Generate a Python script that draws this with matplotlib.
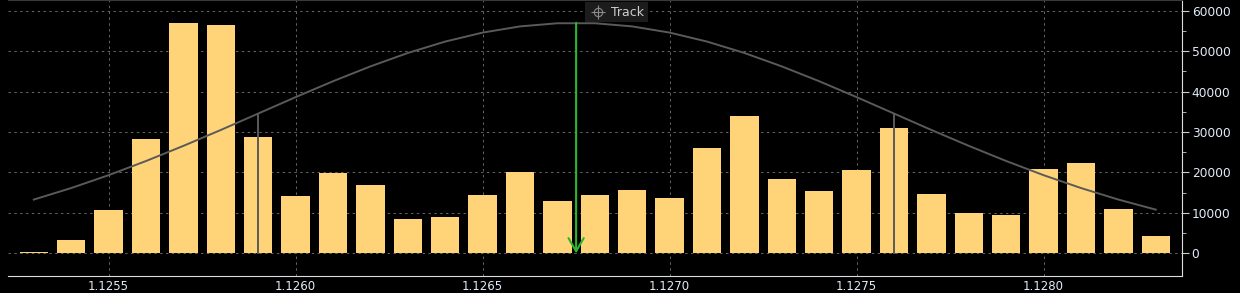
import matplotlib
matplotlib.use("Agg")
import matplotlib.pyplot as plt
from matplotlib.patches import Rectangle
from matplotlib.lines import Line2D

# volume at each price level
prices = [1.1253 + 0.0001 * i for i in range(31)]
volumes = [250, 3400, 10700, 28300, 57000, 56500, 28800, 14200, 19900, 16900,
           8500, 9000, 14400, 20100, 12900, 14400, 15700, 13700, 26000, 34000,
           18400, 15400, 20600, 31000, 14700, 10000, 9500, 20800, 22300, 11000,
           4300]

# distribution curve
curve = [13300, 16150, 19330, 22830, 26580, 30510, 34570, 38630, 42560, 46230,
         49550, 52370, 54590, 56120, 56900, 56900, 56120, 54590, 52370, 49550,
         46230, 42560, 38630, 34570, 30510, 26580, 22830, 19330, 16150, 13300,
         10810]

peak_price = 1.12675
peak_value = 57000
sigma_lines = [(1.1259, 34570), (1.1276, 34500)]

xticks = [1.1255, 1.1260, 1.1265, 1.1270, 1.1275, 1.1280]
yticks = [0, 10000, 20000, 30000, 40000, 50000, 60000]

bar_color = '#ffd479'
label_color = '#e2ecf8'

fig = plt.figure(figsize=(12.4, 2.93), dpi=100, facecolor='black')
ax = fig.add_axes([8 / 1240, 17 / 293, 1174 / 1240, 276 / 293])
ax.set_facecolor('black')

ax.bar(prices, volumes, width=0.0000757, color=bar_color, zorder=2)
ax.plot(prices, curve, color='#5a5a5a', lw=1.4, zorder=3)
for px, top in sigma_lines:
    ax.plot([px, px], [0, top], color='#5a5a5a', lw=1.4, zorder=3)

ax.annotate('', xy=(peak_price, 0), xytext=(peak_price, peak_value),
            arrowprops=dict(arrowstyle='->,head_length=0.95,head_width=0.55',
                            color='#2db52d', lw=1.5, shrinkA=0, shrinkB=0),
            zorder=4)

ax.set_xlim(1.125231, 1.12837)
ax.set_ylim(-5600, 62650)

ax.set_xticks(xticks)
ax.set_xticklabels(['%.4f' % v for v in xticks])
ax.set_yticks(yticks)
ax.set_yticklabels([str(v) for v in yticks])
ax.set_yticks([5000, 15000, 25000, 35000, 45000, 55000], minor=True)
ax.yaxis.tick_right()

ax.tick_params(axis='x', colors=label_color, labelsize=8.5, length=0, pad=3)
ax.tick_params(axis='y', which='major', colors='#cccccc', labelcolor=label_color,
               labelsize=8.8, length=5, pad=2)
ax.tick_params(axis='y', which='minor', colors='#cccccc', length=3)

ax.grid(True, color='#666666', linestyle=(0, (2.5, 3.5)), lw=0.7, zorder=1)

ax.spines['left'].set_visible(False)
ax.spines['top'].set_color('#3a3a3a')
ax.spines['bottom'].set_color('#dddddd')
ax.spines['right'].set_color('#dddddd')

# "Track" label box at the top
W, H = 1240, 293
fig.add_artist(Rectangle((585 / W, 1 - 22 / H), 63 / W, 20 / H,
                         transform=fig.transFigure, facecolor='#1c1c1c',
                         edgecolor='none', zorder=5))
fig.add_artist(Line2D([597.7 / W], [1 - 12 / H], marker='o', markersize=6,
                      markerfacecolor='none', markeredgecolor='#8a8a8a',
                      markeredgewidth=0.8, transform=fig.transFigure, zorder=6))
fig.add_artist(Line2D([597.7 / W], [1 - 12 / H], marker='+', markersize=10,
                      markeredgecolor='#8a8a8a', markeredgewidth=0.8,
                      transform=fig.transFigure, zorder=6))
fig.text(611 / W, 1 - 12 / H, 'Track', color='#cfcfcf', fontsize=9,
         va='center', ha='left', zorder=7)

fig.savefig('out.png', dpi=100, facecolor='black')
